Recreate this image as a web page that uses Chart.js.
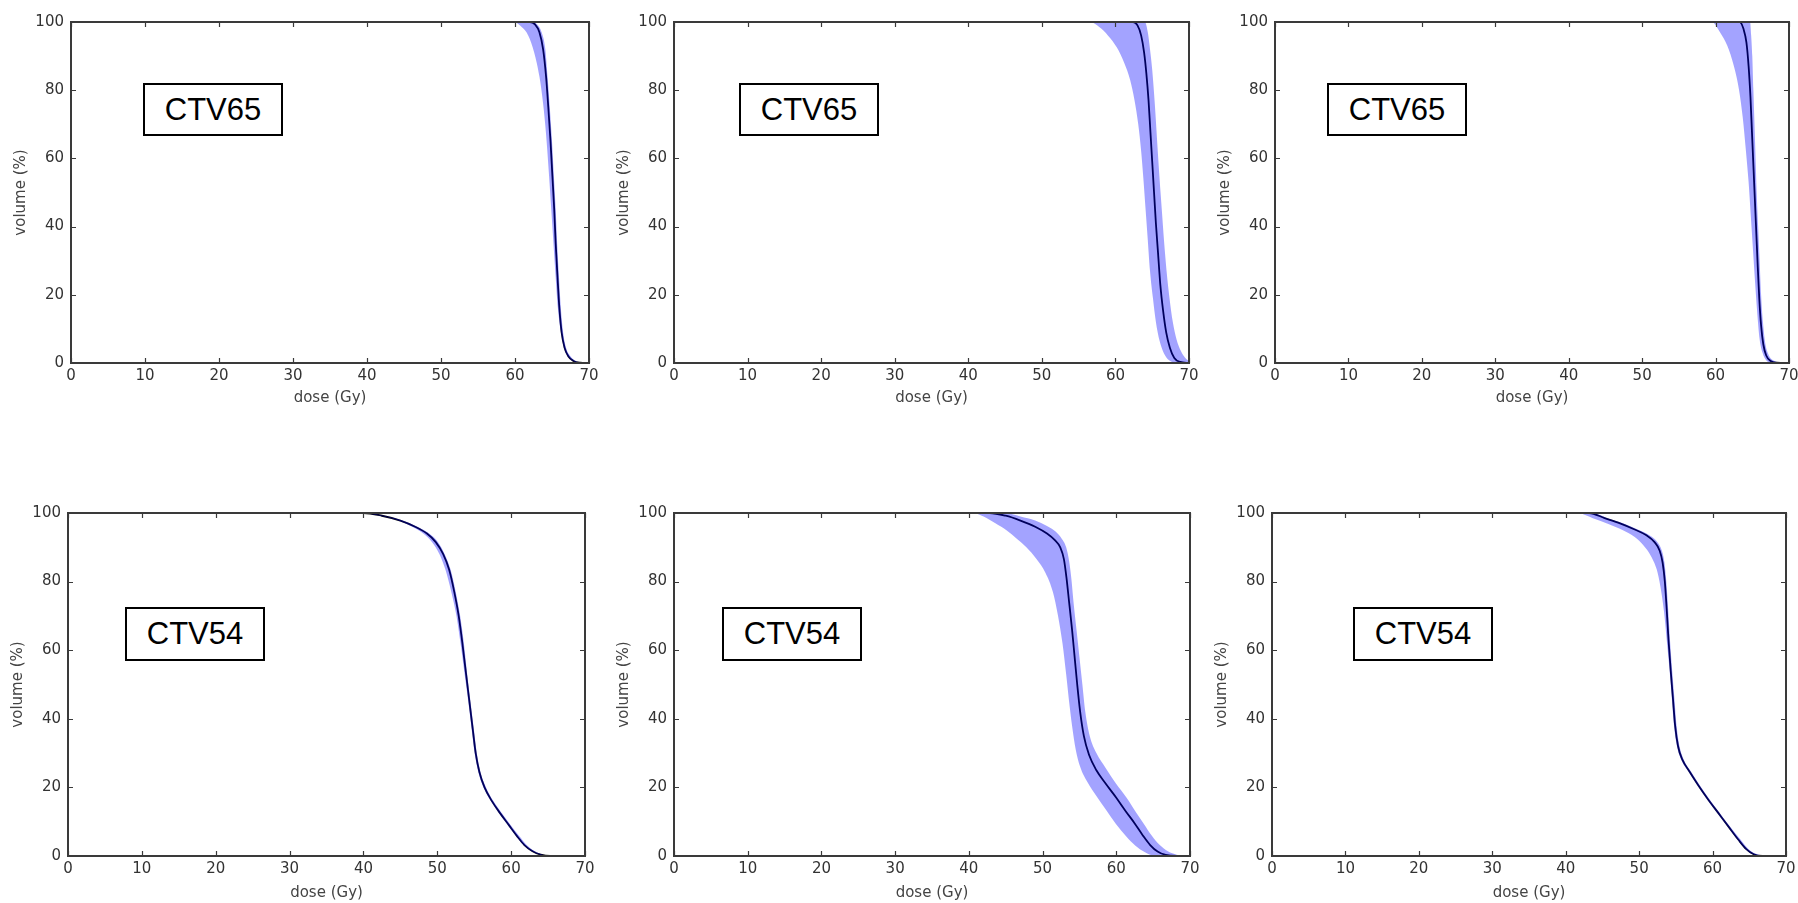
<!DOCTYPE html>
<html>
<head>
<meta charset="utf-8">
<title>DVH bands</title>
<script src="https://cdn.jsdelivr.net/npm/chart.js@4.4.1/dist/chart.umd.min.js"></script>
<style>
  html, body { margin: 0; padding: 0; background: #fff; }
  body { position: relative; width: 1798px; height: 903px; overflow: hidden; }
  canvas { position: absolute; }
  .ctv {
    position: absolute; box-sizing: border-box;
    border: 2.5px solid #000; background: #fff;
    display: flex; align-items: center; justify-content: center;
    font-family: "Liberation Sans", Arial, sans-serif; font-size: 31px; color: #000;
  }
</style>
</head>
<body>
<script>
// ── axis ticks ──────────────────────────────────────────────
const DOSE_TICKS   = [0, 10, 20, 30, 40, 50, 60, 70];
const VOLUME_TICKS = [0, 20, 40, 60, 80, 100];

// ── curves: [dose (Gy), volume (%)] ─────────────────────────
// top row: CTV65
const p1Mean = [[0,100],[62.0,100],[62.7,99.3],[63.3,97],[63.8,92],[64.2,84],[64.5,75],[64.8,65],[65.05,55],[65.3,45],[65.5,35],[65.75,25],[66.0,16],[66.3,9],[66.7,4.5],[67.2,2],[67.9,0.6],[68.8,0.1],[70,0]];
const p1Lo   = [[0,100],[59.9,100],[60.9,98.5],[61.8,96],[62.6,91],[63.3,84],[63.8,76],[64.2,67],[64.6,55],[64.9,45],[65.2,35],[65.5,25],[65.8,16],[66.2,9],[66.6,4.5],[67.1,2],[67.8,0.6],[68.8,0.1],[70,0]];
const p1Hi   = [[0,100],[62.3,100],[63.0,99.3],[63.6,97],[64.1,92],[64.4,84],[64.7,75],[65.0,65],[65.25,55],[65.5,45],[65.7,35],[65.95,25],[66.2,16],[66.5,9],[66.9,4.5],[67.5,2],[68.2,0.6],[69.1,0.1],[70,0]];

const p2Mean = [[0,100],[62.4,100],[63.0,99],[63.5,96],[63.9,91],[64.2,85],[64.5,77],[64.75,68],[65.0,59],[65.25,50],[65.5,41],[65.8,32],[66.1,23],[66.5,15],[66.9,9],[67.4,4.5],[68.0,1.5],[68.8,0.3],[70,0]];
const p2Lo   = [[0,100],[56.6,100],[57.8,98.5],[59.0,96],[60.2,92.5],[61.2,88],[62.0,83],[62.6,77],[63.1,70],[63.5,62],[63.8,54],[64.1,45],[64.4,36],[64.7,27],[65.1,19],[65.5,12],[66.0,6.5],[66.6,2.8],[67.3,0.8],[68.1,0.1],[70,0]];
const p2Hi   = [[0,100],[64.0,100],[64.4,97],[64.7,92],[65.0,86],[65.35,76],[65.7,64],[66.0,54],[66.3,45],[66.6,36],[66.95,27],[67.35,19],[67.8,12],[68.3,7],[68.9,3.5],[69.5,1.5],[70,0.6]];

const p3Mean = [[0,100],[63.3,100],[63.8,98],[64.2,94],[64.5,87],[64.75,78],[64.95,68],[65.15,58],[65.35,48],[65.55,38],[65.75,28],[65.95,19],[66.2,11],[66.5,5.5],[66.9,2.2],[67.5,0.6],[68.3,0.1],[70,0]];
const p3Lo   = [[0,100],[59.5,100],[60.6,97],[61.6,93],[62.5,87],[63.2,80],[63.7,72],[64.1,63],[64.5,53],[64.8,43],[65.1,33],[65.4,23],[65.7,14],[66.0,7],[66.4,3],[66.9,0.8],[67.5,0.1],[70,0]];
const p3Hi   = [[0,100],[64.7,100],[64.85,96],[65.0,90],[65.15,80],[65.3,70],[65.45,60],[65.6,50],[65.8,40],[66.0,30],[66.2,20],[66.45,12],[66.75,6],[67.2,2.5],[67.9,0.7],[68.9,0.1],[70,0]];

// bottom row: CTV54
const p4Mean = [[0,100],[40.0,100],[42.5,99.2],[45.0,97.8],[47.0,96],[48.6,94],[49.8,91.5],[50.8,88],[51.6,83.5],[52.3,77],[52.9,70],[53.4,62],[53.9,53],[54.35,45],[54.8,37],[55.2,30],[55.7,24.5],[56.4,20],[57.4,16],[58.5,12.5],[59.7,9],[60.8,5.8],[61.8,3.2],[62.9,1.4],[64.0,0.4],[65.3,0],[68.4,0]];
const p4Lo   = [[0,100],[39.6,100],[42.2,99.2],[44.7,97.8],[46.6,96],[48.1,94],[49.3,91.5],[50.3,88],[51.1,83.5],[51.9,77],[52.6,70],[53.15,62],[53.7,53],[54.2,45],[54.65,37],[55.05,30],[55.55,24.5],[56.25,20],[57.25,16],[58.35,12.5],[59.55,9],[60.65,5.8],[61.65,3.2],[62.75,1.4],[63.85,0.4],[65.1,0],[70,0]];
const p4Hi   = [[0,100],[40.3,100],[42.8,99.2],[45.3,97.8],[47.3,96],[48.9,94],[50.1,91.5],[51.0,88],[51.8,83.5],[52.5,77],[53.1,70],[53.6,62],[54.05,53],[54.5,45],[54.95,37],[55.35,30],[55.85,24.5],[56.6,20],[57.6,16],[58.75,12.5],[59.95,9],[61.1,5.8],[62.1,3.2],[63.2,1.4],[64.3,0.4],[65.7,0],[70,0]];

const p5Mean = [[0,100],[42.8,100],[45.0,99.2],[47.0,97.8],[49.0,96],[50.6,94],[51.7,92],[52.4,90],[52.9,86.5],[53.25,81],[53.6,74],[54.0,66],[54.35,58],[54.7,50],[55.1,42],[55.6,35],[56.3,29.5],[57.3,25],[58.6,21],[60.0,17],[61.3,13],[62.5,9.5],[63.6,6],[64.6,3.2],[65.6,1.3],[66.7,0.3],[68.2,0],[69.0,0]];
const p5Lo   = [[0,100],[40.4,100],[42.0,99],[43.6,97],[45.1,95],[46.5,92.5],[47.8,90],[49.2,86.5],[50.4,82.5],[51.4,77],[52.1,70],[52.7,62],[53.2,53],[53.6,45],[54.0,38],[54.5,31],[55.1,26],[56.1,21.5],[57.3,17.5],[58.6,13.5],[59.9,9.5],[61.3,5.8],[62.6,3],[63.9,1.1],[65.1,0.1],[70,0]];
const p5Hi   = [[0,100],[44.8,100],[47.0,99],[49.0,97.8],[50.6,96.2],[51.8,94.5],[52.6,92.5],[53.2,90],[53.6,86],[53.9,81],[54.2,74],[54.6,66],[55.0,58],[55.4,50],[55.8,42],[56.4,35],[57.3,30],[58.6,25.5],[60.0,21],[61.4,17],[62.6,13],[63.7,9.5],[64.8,6],[65.9,3.2],[67.0,1.4],[68.2,0.4],[69.3,0],[70,0]];

const p6Mean = [[0,100],[43.2,100],[45.3,98.5],[47.4,97],[49.4,95.2],[51.0,93.5],[52.1,91.5],[52.8,89],[53.2,85.5],[53.5,80],[53.75,72],[54.0,63],[54.3,54],[54.6,46],[54.9,38],[55.3,32],[55.9,28],[56.9,24.5],[58.1,20.5],[59.4,16.5],[60.8,12.5],[62.2,8.5],[63.5,4.8],[64.6,2],[65.6,0.5],[66.8,0],[67.8,0]];
const p6Lo   = [[0,100],[41.6,100],[43.7,98.5],[45.8,96.8],[47.8,95],[49.4,93],[50.6,90.5],[51.6,87.5],[52.4,83.5],[52.9,78.5],[53.4,71],[53.8,62],[54.15,54],[54.45,46],[54.75,38],[55.15,32],[55.75,28],[56.75,24.5],[57.95,20.5],[59.25,16.5],[60.65,12.5],[62.05,8.5],[63.35,4.8],[64.45,2],[65.45,0.5],[66.6,0],[70,0]];
const p6Hi   = [[0,100],[43.6,100],[45.7,98.5],[47.8,97],[49.8,95.2],[51.4,93.5],[52.5,91.5],[53.1,89],[53.45,85.5],[53.7,80],[53.95,72],[54.2,63],[54.5,54],[54.8,46],[55.1,38],[55.5,32],[56.1,28],[57.1,24.5],[58.3,20.5],[59.6,16.5],[61.0,12.5],[62.4,8.5],[63.8,4.8],[64.9,2],[66.1,0.5],[68.1,0],[70,0]];

const LABELS = ["CTV65", "CTV65", "CTV65", "CTV54", "CTV54", "CTV54"];

// ── layout (page pixels) ────────────────────────────────────
// plot area [left, top, right, bottom], label box [left, top], x-title gap
const PANELS = [
  { mean: p1Mean, lo: p1Lo, hi: p1Hi, area: [71, 21, 589, 363],    box: [143, 83],  titleGap: 6 },
  { mean: p2Mean, lo: p2Lo, hi: p2Hi, area: [674, 21, 1189, 363],  box: [739, 83],  titleGap: 6 },
  { mean: p3Mean, lo: p3Lo, hi: p3Hi, area: [1275, 21, 1789, 363], box: [1327, 83], titleGap: 6 },
  { mean: p4Mean, lo: p4Lo, hi: p4Hi, area: [68, 512, 585, 856],   box: [125, 607], titleGap: 4 },
  { mean: p5Mean, lo: p5Lo, hi: p5Hi, area: [674, 512, 1190, 856], box: [722, 607], titleGap: 4 },
  { mean: p6Mean, lo: p6Lo, hi: p6Hi, area: [1272, 512, 1786, 856],box: [1353, 607],titleGap: 4 },
];

const Y_AXIS_W  = 70;
const X_AXIS_H  = 50;
const PAD_TOP   = 15;
const PAD_RIGHT = 15;
const TICK_LEN  = 5;
const FRAME     = "#3a3a3a";
const BAND      = "rgba(0, 0, 255, 0.36)";
const FONT      = "'DejaVu Sans', sans-serif";

const toXY = arr => arr.map(([x, y]) => ({ x, y }));

// matplotlib-style frame with inward ticks on all four sides
const frameTicks = {
  id: "frameTicks",
  afterDatasetsDraw(chart) {
    const { ctx, chartArea: a, scales: { x, y } } = chart;
    ctx.save();
    ctx.strokeStyle = FRAME;
    ctx.lineWidth = 1.2;
    ctx.beginPath();
    DOSE_TICKS.forEach(v => {
      const px = Math.round(x.getPixelForValue(v)) + 0.5;
      ctx.moveTo(px, a.bottom); ctx.lineTo(px, a.bottom - TICK_LEN);
      ctx.moveTo(px, a.top);    ctx.lineTo(px, a.top + TICK_LEN);
    });
    VOLUME_TICKS.forEach(v => {
      const py = Math.round(y.getPixelForValue(v)) + 0.5;
      ctx.moveTo(a.left, py);  ctx.lineTo(a.left + TICK_LEN, py);
      ctx.moveTo(a.right, py); ctx.lineTo(a.right - TICK_LEN, py);
    });
    ctx.stroke();
    ctx.lineWidth = 2;
    ctx.strokeRect(a.left, a.top, a.right - a.left, a.bottom - a.top);
    ctx.restore();
  }
};

PANELS.forEach((p, i) => {
  const [L, T, R, B] = p.area;
  const canvas = document.createElement("canvas");
  canvas.width  = (R - L) + Y_AXIS_W + PAD_RIGHT;
  canvas.height = (B - T) + PAD_TOP + X_AXIS_H;
  canvas.style.left = (L - Y_AXIS_W) + "px";
  canvas.style.top  = (T - PAD_TOP) + "px";
  document.body.appendChild(canvas);

  const label = document.createElement("div");
  label.className = "ctv";
  label.textContent = LABELS[i];
  label.style.left = p.box[0] + "px";
  label.style.top = p.box[1] + "px";
  label.style.width = "140px";
  label.style.height = (i < 3 ? 53 : 54) + "px";
  document.body.appendChild(label);

  const common = { pointRadius: 0, pointHoverRadius: 0, cubicInterpolationMode: "monotone" };

  new Chart(canvas.getContext("2d"), {
    type: "line",
    data: {
      datasets: [
        { ...common, data: toXY(p.lo), borderWidth: 0, backgroundColor: BAND, fill: "+1" },
        { ...common, data: toXY(p.hi), borderWidth: 0, fill: false },
        { ...common, data: toXY(p.mean), borderColor: "#000", borderWidth: 1.8, fill: false },
      ],
    },
    options: {
      responsive: false,
      animation: false,
      devicePixelRatio: 1,
      layout: { padding: { left: 0, top: PAD_TOP, right: PAD_RIGHT, bottom: 0 } },
      plugins: { legend: { display: false }, tooltip: { enabled: false } },
      scales: {
        x: {
          type: "linear", min: 0, max: 70,
          afterBuildTicks: s => { s.ticks = DOSE_TICKS.map(v => ({ value: v })); },
          afterFit: s => { s.height = X_AXIS_H; },
          grid: { display: false, drawTicks: false },
          border: { display: false },
          ticks: { padding: 4, color: "#333", font: { family: FONT, size: 15 }, maxRotation: 0 },
          title: { display: true, text: "dose (Gy)", color: "#444",
                   font: { family: FONT, size: 15 }, padding: { top: 0, bottom: p.titleGap } },
        },
        y: {
          type: "linear", min: 0, max: 100,
          afterBuildTicks: s => { s.ticks = VOLUME_TICKS.map(v => ({ value: v })); },
          afterFit: s => { s.width = Y_AXIS_W; },
          grid: { display: false, drawTicks: false },
          border: { display: false },
          ticks: { padding: 7, color: "#333", font: { family: FONT, size: 15 } },
          title: { display: true, text: "volume (%)", color: "#444",
                   font: { family: FONT, size: 15 }, padding: { top: 11, bottom: 0 } },
        },
      },
    },
    plugins: [frameTicks],
  });
});
</script>
</body>
</html>
